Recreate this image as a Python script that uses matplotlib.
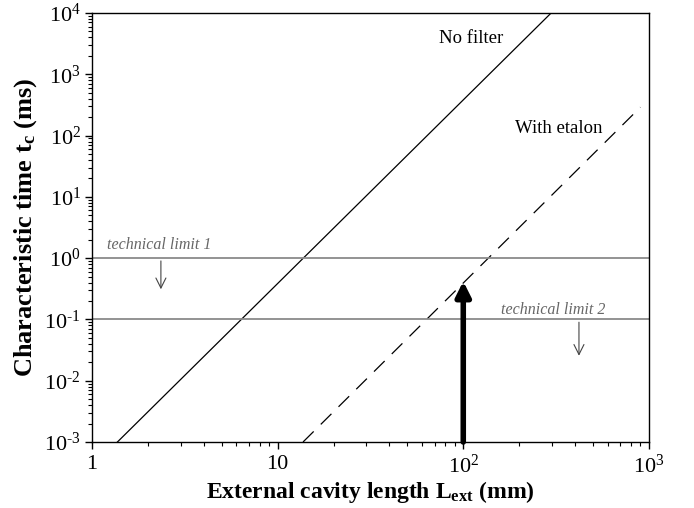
import matplotlib
matplotlib.use("Agg")
import matplotlib.pyplot as plt
from matplotlib.ticker import FixedLocator, LogLocator, NullFormatter

plt.rcParams['font.family'] = ['Liberation Serif', 'DejaVu Serif']
plt.rcParams['mathtext.fontset'] = 'custom'
plt.rcParams['mathtext.rm'] = 'Liberation Serif'
plt.rcParams['mathtext.it'] = 'Liberation Serif:italic'
plt.rcParams['mathtext.bf'] = 'Liberation Serif:bold'

# Data
no_filter_L = [1.37, 307]
no_filter_t = [1e-3, 1.1e4]
etalon_L = [13.7, 900]
etalon_t = [1e-3, 290]
limit_values = [1.0, 0.1]
limit_labels = ['technical limit 1', 'technical limit 2']
x_ticks = [1, 10, 100, 1000]
x_ticklabels = ['1', '10', r'$\mathregular{10^{2}}$', r'$\mathregular{10^{3}}$']
y_ticks = [1e-3, 1e-2, 1e-1, 1e0, 1e1, 1e2, 1e3, 1e4]
y_exponents = ['\u20103', '\u20102', '\u20101', '0', '1', '2', '3', '4']
y_ticklabels = [r'$\mathregular{10^{%s}}$' % e for e in y_exponents]
arrow_L = 100
arrow_t = [1e-3, 0.42]

fig = plt.figure(figsize=(6.94, 5.08), dpi=100)
ax = fig.add_axes([0.1326, 0.1299, 0.935 - 0.1326, 0.9744 - 0.1299])
ax.set_xscale('log')
ax.set_yscale('log')
ax.set_xlim(1, 1000)
ax.set_ylim(1e-3, 1e4)

ax.plot(no_filter_L, no_filter_t, color='black', lw=0.9)
ax.plot(etalon_L, etalon_t, color='black', lw=0.9, dashes=(12, 8))

for v in limit_values:
    ax.axhline(v, color='#8a8a8a', lw=1.3)

ax.text(1.2, 1.64, limit_labels[0], fontsize=11.5, style='italic', color='#666666', va='center')
ax.text(159, 0.14, limit_labels[1], fontsize=11.5, style='italic', color='#666666', va='center')

# small down arrows
ax.annotate('', xy=(2.35, 0.28), xytext=(2.35, 1.0),
            arrowprops=dict(arrowstyle='->', color='#444444', lw=0.8, mutation_scale=18))
ax.annotate('', xy=(420, 0.023), xytext=(420, 0.1),
            arrowprops=dict(arrowstyle='->', color='#444444', lw=0.8, mutation_scale=18))

# thick arrow
ax.annotate('', xy=(arrow_L, arrow_t[1]), xytext=(arrow_L, arrow_t[0]),
            arrowprops=dict(arrowstyle='-|>', color='black', lw=4, mutation_scale=22,
                            shrinkA=0, shrinkB=0))

ax.text(74, 3900, 'No filter', fontsize=13.5, va='center')
ax.text(190, 132, 'With etalon', fontsize=13.5, va='center')

ax.xaxis.set_major_locator(FixedLocator(x_ticks))
ax.set_xticklabels(x_ticklabels)
ax.yaxis.set_major_locator(FixedLocator(y_ticks))
ax.set_yticklabels(y_ticklabels)
ax.xaxis.set_minor_locator(LogLocator(base=10, subs=range(2, 10), numticks=20))
ax.yaxis.set_minor_locator(LogLocator(base=10, subs=range(2, 10), numticks=20))
ax.xaxis.set_minor_formatter(NullFormatter())
ax.yaxis.set_minor_formatter(NullFormatter())
ax.tick_params(which='major', direction='out', length=5, width=1, labelsize=16)
ax.tick_params(which='minor', direction='out', length=3, width=0.8)
ax.tick_params(axis='x', pad=4)
ax.tick_params(axis='y', pad=3)

for s in ax.spines.values():
    s.set_linewidth(1.0)

ax.set_xlabel(r'External cavity length $\mathbf{L_{ext}}$ (mm)', fontsize=17, fontweight='bold', labelpad=1)
ax.set_ylabel(r'Characteristic time $\mathbf{t_{c}}$ (ms)', fontsize=19, fontweight='bold', labelpad=4)

fig.savefig('out.png', dpi=100)
